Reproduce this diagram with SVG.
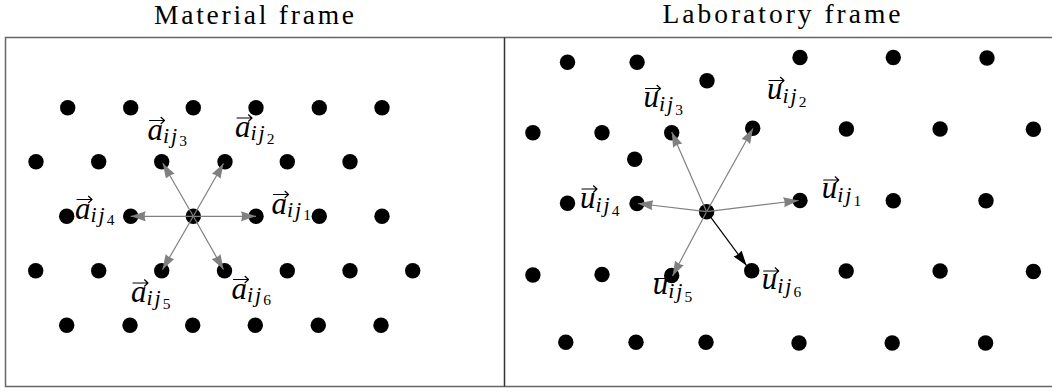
<svg xmlns="http://www.w3.org/2000/svg" width="1052" height="392" viewBox="0 0 1052 392">
<defs>
<marker id="ag" markerUnits="userSpaceOnUse" markerWidth="16" markerHeight="11" refX="15" refY="5" orient="auto"><path d="M0,0 L15,5 L0,10 Q2,5 0,0 z" fill="#808080"/></marker>
<marker id="ab" markerUnits="userSpaceOnUse" markerWidth="16" markerHeight="11" refX="15" refY="5" orient="auto"><path d="M0,0 L15,5 L0,10 Q2,5 0,0 z" fill="#000"/></marker>
<path id="vec" d="M0,0 H14.5 M11.5,-3.2 L15,0 L11.5,3.2" fill="none" stroke="#000" stroke-width="1.2" stroke-linecap="round" stroke-linejoin="round"/>
</defs>
<style>
.title{font-family:"Liberation Serif",serif;font-size:27.5px;fill:#000;text-anchor:middle}
.m{font-family:"Liberation Serif",serif;font-style:italic;font-size:31px;fill:#000}
.s{font-size:22px;letter-spacing:2px}
.ss{font-size:15.5px;font-style:normal}
.frame{fill:none;stroke:#666;stroke-width:1.5}
.div{stroke:#333;stroke-width:1.5}
circle{fill:#000}
.c line{stroke:#808080;stroke-width:1.2;marker-end:url(#ag)}
.c line.k{stroke:#000;marker-end:url(#ab)}
</style>
<rect width="1052" height="392" fill="#fff"/>
<g id="titles">
<text class="title" x="254" y="23.5" textLength="200" lengthAdjust="spacing">Material frame</text>
<text class="title" x="781.5" y="23" textLength="238" lengthAdjust="spacing">Laboratory frame</text>
</g>
<g id="frames">
<path class="frame" d="M1060,37.5 H5.5 V386.5 H1060"/>
<line class="div" x1="504.5" y1="37.5" x2="504.5" y2="386.5"/>
</g>
<g id="labels">
<text class="m" x="147.5" y="139.5">a<tspan class="s" dy="3">ij</tspan><tspan class="ss" dy="3.5">3</tspan></text>
<use href="#vec" x="149.5" y="120.5"/>
<text class="m" x="235" y="137">a<tspan class="s" dy="3">ij</tspan><tspan class="ss" dy="3.5">2</tspan></text>
<use href="#vec" x="237" y="118"/>
<text class="m" x="271.5" y="213.5">a<tspan class="s" dy="3">ij</tspan><tspan class="ss" dy="3.5">1</tspan></text>
<use href="#vec" x="273.5" y="194.5"/>
<text class="m" x="75" y="218.5">a<tspan class="s" dy="3">ij</tspan><tspan class="ss" dy="3.5">4</tspan></text>
<use href="#vec" x="77" y="199.5"/>
<text class="m" x="131" y="302">a<tspan class="s" dy="3">ij</tspan><tspan class="ss" dy="3.5">5</tspan></text>
<use href="#vec" x="133" y="283"/>
<text class="m" x="231.5" y="298.5">a<tspan class="s" dy="3">ij</tspan><tspan class="ss" dy="3.5">6</tspan></text>
<use href="#vec" x="233.5" y="279.5"/>
<text class="m" x="643.5" y="107">u<tspan class="s" dy="4">ij</tspan><tspan class="ss" dy="4">3</tspan></text>
<use href="#vec" x="645.5" y="88.5"/>
<text class="m" x="767" y="99">u<tspan class="s" dy="4">ij</tspan><tspan class="ss" dy="4">2</tspan></text>
<use href="#vec" x="769" y="80.5"/>
<text class="m" x="821.7" y="198.3">u<tspan class="s" dy="4">ij</tspan><tspan class="ss" dy="4">1</tspan></text>
<use href="#vec" x="823.7" y="180"/>
<text class="m" x="580" y="207.5">u<tspan class="s" dy="4">ij</tspan><tspan class="ss" dy="4">4</tspan></text>
<use href="#vec" x="582" y="189"/>
<text class="m" x="652.7" y="293.5">u<tspan class="s" dy="4">ij</tspan><tspan class="ss" dy="4">5</tspan></text>
<use href="#vec" x="654.7" y="278.5"/>
<text class="m" x="761.7" y="289">u<tspan class="s" dy="4">ij</tspan><tspan class="ss" dy="4">6</tspan></text>
<use href="#vec" x="763.7" y="271"/>
</g>
<g id="material-lattice">
<g id="m1-1"><circle cx="67.7" cy="107.7" r="7.7"/></g>
<g id="m1-2"><circle cx="130.7" cy="107.7" r="7.7"/></g>
<g id="m1-3"><circle cx="193.3" cy="107.7" r="7.7"/></g>
<g id="m1-4"><circle cx="256" cy="107.7" r="7.7"/></g>
<g id="m1-5"><circle cx="319.3" cy="107.7" r="7.7"/></g>
<g id="m1-6"><circle cx="382" cy="107.7" r="7.7"/></g>
<g id="m2-1"><circle cx="36" cy="161.7" r="7.7"/></g>
<g id="m2-2"><circle cx="98.7" cy="161.7" r="7.7"/></g>
<g id="m2-3"><circle cx="161.7" cy="161.7" r="7.7"/></g>
<g id="m2-4"><circle cx="225" cy="161.7" r="7.7"/></g>
<g id="m2-5"><circle cx="287.3" cy="161.7" r="7.7"/></g>
<g id="m2-6"><circle cx="350" cy="161.7" r="7.7"/></g>
<g id="m3-1"><circle cx="66.7" cy="216.3" r="7.7"/></g>
<g id="m3-2"><circle cx="130.7" cy="216.3" r="7.7"/></g>
<g id="m3-3"><circle cx="193.3" cy="216.3" r="7.7"/></g>
<g id="m3-4"><circle cx="256" cy="216.3" r="7.7"/></g>
<g id="m3-5"><circle cx="319.3" cy="216.3" r="7.7"/></g>
<g id="m3-6"><circle cx="382" cy="216.3" r="7.7"/></g>
<g id="m4-1"><circle cx="35.7" cy="270.7" r="7.7"/></g>
<g id="m4-2"><circle cx="98.7" cy="270.7" r="7.7"/></g>
<g id="m4-3"><circle cx="161.7" cy="270.7" r="7.7"/></g>
<g id="m4-4"><circle cx="224.5" cy="270.7" r="7.7"/></g>
<g id="m4-5"><circle cx="287.3" cy="270.7" r="7.7"/></g>
<g id="m4-6"><circle cx="350" cy="270.7" r="7.7"/></g>
<g id="m4-7"><circle cx="412.7" cy="270.7" r="7.7"/></g>
<g id="m5-1"><circle cx="66.7" cy="325.3" r="7.7"/></g>
<g id="m5-2"><circle cx="130" cy="325.3" r="7.7"/></g>
<g id="m5-3"><circle cx="192.7" cy="325.3" r="7.7"/></g>
<g id="m5-4"><circle cx="255.3" cy="325.3" r="7.7"/></g>
<g id="m5-5"><circle cx="318.3" cy="325.3" r="7.7"/></g>
<g id="m5-6"><circle cx="381" cy="325.3" r="7.7"/></g>
</g>
<g id="lab-lattice">
<g id="l1-1"><circle cx="567.5" cy="62.3" r="7.7"/></g>
<g id="l1-2"><circle cx="637.1" cy="62.3" r="7.7"/></g>
<g id="l1-3"><circle cx="707" cy="80.7" r="7.7"/></g>
<g id="l1-4"><circle cx="800" cy="57.5" r="7.7"/></g>
<g id="l1-5"><circle cx="893.3" cy="57.5" r="7.7"/></g>
<g id="l1-6"><circle cx="987" cy="58" r="7.7"/></g>
<g id="l2-1"><circle cx="532.9" cy="132.7" r="7.7"/></g>
<g id="l2-2"><circle cx="602" cy="132.7" r="7.7"/></g>
<g id="l2-3"><circle cx="671.7" cy="132.7" r="7.7"/></g>
<g id="l2-4"><circle cx="752.7" cy="128.3" r="7.7"/></g>
<g id="l2-5"><circle cx="846.4" cy="129" r="7.7"/></g>
<g id="l2-6"><circle cx="940.1" cy="129" r="7.7"/></g>
<g id="l2-7"><circle cx="1033.4" cy="129.3" r="7.7"/></g>
<g id="l2-x"><circle cx="634.7" cy="159.3" r="7.7"/></g>
<g id="l3-1"><circle cx="567.5" cy="203.3" r="7.7"/></g>
<g id="l3-2"><circle cx="637" cy="203.5" r="7.7"/></g>
<g id="l3-3"><circle cx="706.6" cy="211.7" r="7.7"/></g>
<g id="l3-4"><circle cx="800" cy="200.5" r="7.7"/></g>
<g id="l3-5"><circle cx="893.3" cy="200.7" r="7.7"/></g>
<g id="l3-6"><circle cx="986" cy="200.7" r="7.7"/></g>
<g id="l4-1"><circle cx="532.9" cy="275" r="7.7"/></g>
<g id="l4-2"><circle cx="602" cy="274.5" r="7.7"/></g>
<g id="l4-3"><circle cx="671.7" cy="275.5" r="7.7"/></g>
<g id="l4-4"><circle cx="751.7" cy="270.7" r="7.7"/></g>
<g id="l4-5"><circle cx="846.2" cy="271" r="7.7"/></g>
<g id="l4-6"><circle cx="940.1" cy="271" r="7.7"/></g>
<g id="l4-7"><circle cx="1033.4" cy="271.5" r="7.7"/></g>
<g id="l5-1"><circle cx="565.8" cy="342.3" r="7.7"/></g>
<g id="l5-2"><circle cx="636" cy="342.3" r="7.7"/></g>
<g id="l5-3"><circle cx="706" cy="342.3" r="7.7"/></g>
<g id="l5-4"><circle cx="799" cy="343" r="7.7"/></g>
<g id="l5-5"><circle cx="892.2" cy="343" r="7.7"/></g>
<g id="l5-6"><circle cx="985.6" cy="343" r="7.7"/></g>
</g>
<g id="connectors" class="c">
<line x1="193.3" y1="216.3" x2="256" y2="216.3"/>
<line x1="193.3" y1="216.3" x2="223.5" y2="163.5"/>
<line x1="193.3" y1="216.3" x2="162.8" y2="163.3"/>
<line x1="193.3" y1="216.3" x2="130.7" y2="216.3"/>
<line x1="193.3" y1="216.3" x2="162.5" y2="269.5"/>
<line x1="193.3" y1="216.3" x2="223.5" y2="269.5"/>
<line x1="706.6" y1="211.7" x2="798.5" y2="200.5"/>
<line x1="706.6" y1="211.7" x2="753" y2="128.5"/>
<line x1="706.6" y1="211.7" x2="671.7" y2="132"/>
<line x1="706.6" y1="211.7" x2="638" y2="203.5"/>
<line x1="706.6" y1="211.7" x2="672.5" y2="276"/>
<line class="k" x1="706.6" y1="211.7" x2="746.5" y2="265.5"/>
</g>
</svg>
